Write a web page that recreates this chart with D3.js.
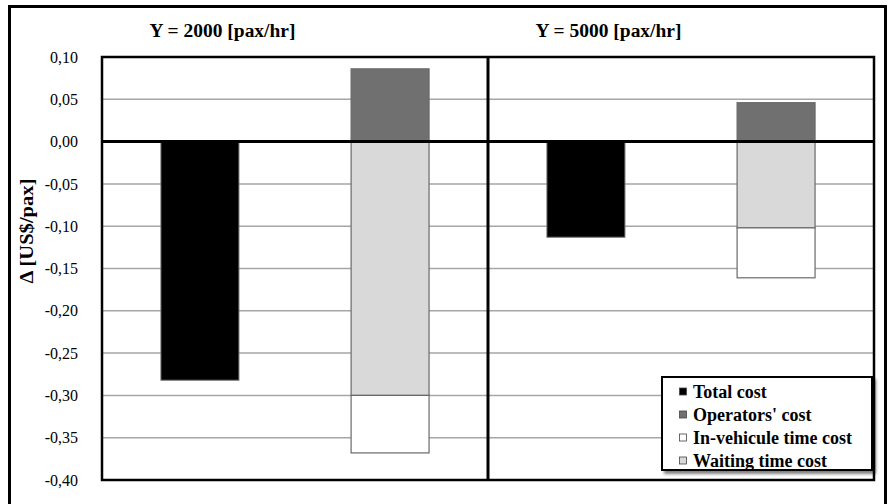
<!DOCTYPE html>
<html><head><meta charset="utf-8">
<script src="https://cdn.jsdelivr.net/npm/d3@7/dist/d3.min.js"></script>
<style>
html,body{margin:0;padding:0;background:#fff;}
svg{display:block;}
text{font-family:"Liberation Serif","Times New Roman",serif;}
</style></head>
<body>
<svg id="c" width="888" height="504"></svg>
<script>
const panels = ["Y = 2000 [pax/hr]", "Y = 5000 [pax/hr]"];
const barSlots = ["total", "components"];
const totalCost = [-0.282, -0.113];
const operatorsCost = [0.086, 0.046];
const waitingCost = [-0.300, -0.102];
const inVehicleCost = [-0.068, -0.059];
const yTicks = [0.10, 0.05, 0.00, -0.05, -0.10, -0.15, -0.20, -0.25, -0.30, -0.35, -0.40];
const legendLabels = ["Total cost", "Operators' cost", "In-vehicule time cost", "Waiting time cost"];
const yTitle = "Δ [US$/pax]";

const colors = {total:"#000000", operators:"#707070", invehicle:"#ffffff", waiting:"#d9d9d9"};
const svg = d3.select("#c");
const m = {left:102, right:874, top:57, bottom:480};

const y = d3.scaleLinear().domain([-0.40, 0.10]).range([m.bottom, m.top]);
const xPanel = d3.scaleBand().domain(panels).range([m.left, m.right]);
const xBar = d3.scaleBand().domain(barSlots).range([0, xPanel.bandwidth()]).paddingInner(0.59).paddingOuter(0.31);

const defs = svg.append("defs");
const f = defs.append("filter").attr("id","sh").attr("x","-10%").attr("y","-10%").attr("width","130%").attr("height","140%");
f.append("feGaussianBlur").attr("in","SourceAlpha").attr("stdDeviation",1.5);
f.append("feOffset").attr("dx",3).attr("dy",3).attr("result","b");
f.append("feComponentTransfer").append("feFuncA").attr("type","linear").attr("slope",0.5);
const fm = f.append("feMerge"); fm.append("feMergeNode"); fm.append("feMergeNode").attr("in","SourceGraphic");

// outer frame
svg.append("rect").attr("x",9.5).attr("y",6.5).attr("width",876).attr("height",510)
  .attr("fill","none").attr("stroke","#000").attr("stroke-width",3);

// gridlines
svg.append("g").selectAll("line").data(yTicks.filter(d=>d!==0 && d!==0.10 && d!==-0.40)).join("line")
  .attr("x1",m.left).attr("x2",m.right).attr("y1",d=>y(d)).attr("y2",d=>y(d))
  .attr("stroke","#a6a6a6").attr("stroke-width",1.5);

// axis
const fmt = d => d3.format(".2f")(d).replace(".", ",").replace("−","-");
const ax = svg.append("g").attr("transform",`translate(${m.left},0)`)
  .call(d3.axisLeft(y).tickValues(yTicks).tickFormat(fmt).tickSize(0).tickPadding(24));
ax.select(".domain").remove();
ax.selectAll("text").attr("font-size",16).attr("fill","#000").attr("font-family","Liberation Serif, serif");

// y title
svg.append("text").attr("transform","translate(33,231) rotate(-90)").attr("text-anchor","middle")
  .attr("font-size",18).attr("font-weight","bold")
  .attr("textLength",105).attr("lengthAdjust","spacingAndGlyphs").text(yTitle);

// panel titles
svg.append("g").selectAll("text").data(panels).join("text")
  .attr("x",d=>xPanel(d)+xPanel.bandwidth()*0.312).attr("y",37).attr("text-anchor","middle")
  .attr("font-size",18).attr("font-weight","bold")
  .attr("textLength",146).attr("lengthAdjust","spacingAndGlyphs").text(d=>d);

// bars
const barStroke = "#6a6a6a";
panels.forEach((p,i)=>{
  const g = svg.append("g").attr("transform",`translate(${xPanel(p)},0)`);
  g.append("rect").attr("x",xBar("total")).attr("width",xBar.bandwidth())
    .attr("y",y(Math.max(0,totalCost[i]))).attr("height",Math.abs(y(totalCost[i])-y(0)))
    .attr("fill",colors.total).attr("stroke",barStroke).attr("stroke-width",1);
  const row = {operators:operatorsCost[i], waiting:waitingCost[i], invehicle:inVehicleCost[i]};
  const st = d3.stack().keys(["operators","waiting","invehicle"]).offset(d3.stackOffsetDiverging)([row]);
  st.forEach(s=>{
    const v = s[0];
    g.append("rect").attr("x",xBar("components")).attr("width",xBar.bandwidth())
      .attr("y",y(Math.max(v[0],v[1]))).attr("height",Math.abs(y(v[0])-y(v[1])))
      .attr("fill",colors[s.key]).attr("stroke",barStroke).attr("stroke-width",1.2);
  });
});

// zero line
svg.append("line").attr("x1",m.left).attr("x2",m.right).attr("y1",y(0)).attr("y2",y(0))
  .attr("stroke","#000").attr("stroke-width",3);
// panel divider
svg.append("line").attr("x1",xPanel(panels[1])).attr("x2",xPanel(panels[1])).attr("y1",m.top).attr("y2",m.bottom)
  .attr("stroke","#000").attr("stroke-width",3);
// plot border
svg.append("rect").attr("x",m.left).attr("y",m.top).attr("width",m.right-m.left).attr("height",m.bottom-m.top)
  .attr("fill","none").attr("stroke","#000").attr("stroke-width",2.5);

// legend
const lg = svg.append("g").attr("transform","translate(662,377)");
lg.append("rect").attr("width",210).attr("height",93).attr("fill","#fff").attr("stroke","#000").attr("stroke-width",2).attr("filter","url(#sh)");
const lKeys = ["total","operators","invehicle","waiting"];
const items = lg.selectAll("g.it").data(legendLabels).join("g").attr("class","it")
  .attr("transform",(d,i)=>`translate(0,${15+i*23})`);
items.append("rect").attr("x",17.5).attr("y",-4).attr("width",7).attr("height",7)
  .attr("fill",(d,i)=>colors[lKeys[i]]).attr("stroke","#444").attr("stroke-width",0.8);
items.append("text").attr("x",31).attr("y",6).attr("font-size",18).attr("font-weight","bold").text(d=>d);
</script>
</body></html>
